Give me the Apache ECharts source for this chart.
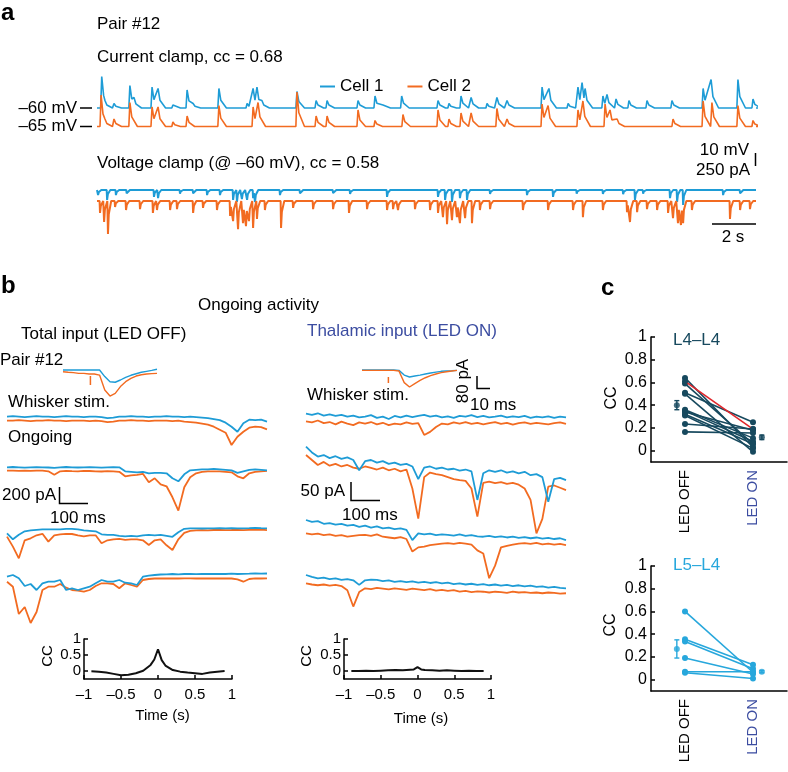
<!DOCTYPE html>
<html>
<head>
<meta charset="utf-8">
<title>Pair #12</title>
<script src="https://cdn.jsdelivr.net/npm/echarts@6/dist/echarts.min.js"></script>
<style>
html, body { margin: 0; padding: 0; background: #fff; }
#chart { width: 788px; height: 772px; }
</style>
</head>
<body>
<div id="chart"></div>
<script>
// ---------- data ----------

// panel a, current clamp: event times (s) and peak amplitudes (mV above rest)
var ccBlueTimes = [0.22,0.37,0.79,1.53,1.72,2.56,2.84,3.53,4.19,4.47,5.67,6.98,7.26,7.44,7.67,9.30,10.19,10.70,12.14,12.93,13.30,14.17,15.86,16.37,16.93,17.40,18.14,18.60,19.07,20.70,21.02,21.91,22.37,22.56,22.70,23.53,23.72,24.14,24.74,25.58,26.74,28.19,28.56,29.81,30.51];
var ccBlueAmps  = [21,5,3,15,7,14,13,2,12,3,13,3,13,14,5,11,5,5,5,8,2,8,5,3,8,7,3,7,5,14,13,3,14,17,13,8,9,6,5,5,5,13,19,19,6];
var ccOrangeTimes = [0.19,0.37,0.79,1.53,2.56,2.84,3.53,4.19,5.67,7.26,7.49,9.30,10.19,10.70,12.14,12.93,14.23,15.86,16.37,16.93,17.40,18.60,19.07,20.70,20.98,22.37,22.60,23.63,23.86,24.19,26.79,28.19,28.60,29.81,30.51];
var ccOrangeAmps  = [21,5,5,16,13,13,3,7,14,13,16,23,7,7,11,4,8,11,5,9,9,12,5,15,14,11,17,15,11,5,5,17,16,14,4];

// panel a, voltage clamp: event times (s) and current amplitudes (pA)
var vcBlueTimes = [0.05,0.47,0.88,1.38,2.65,2.84,3.86,4.47,5.12,5.72,6.33,6.51,6.74,6.98,7.26,7.35,8.51,9.44,10.98,11.77,13.49,15.86,16.19,16.51,16.88,17.21,18.28,20.00,21.21,22.31,23.53,24.47,25.02,25.40,26.65,26.98,27.26,29.12,29.91];
var vcBlueAmps  = [-85,-165,-85,-55,-115,-135,-60,-55,-85,-85,-165,-200,-150,-165,-135,-200,-85,-55,-50,-65,-115,-115,-165,-200,-135,-165,-65,-85,-115,-60,-65,-70,-165,-60,-135,-200,-250,-85,-55];
var vcOrangeTimes = [0.14,0.33,0.51,0.84,1.35,2.00,2.60,2.79,3.40,3.72,4.47,4.93,5.58,6.19,6.33,6.56,6.79,6.93,7.07,7.26,7.44,7.81,8.56,9.12,10.05,10.98,11.72,12.56,13.49,13.77,14.00,14.79,15.49,15.86,16.09,16.28,16.51,16.74,16.88,17.12,17.44,17.81,18.28,19.81,20.98,22.14,22.60,23.53,24.65,24.79,25.12,25.58,26.05,26.56,26.79,27.02,27.16,27.26,27.67,29.44,29.91,30.37];
var vcOrangeAmps  = [-200,-350,-550,-100,-150,-135,-200,-150,-150,-135,-200,-115,-150,-250,-335,-470,-370,-420,-335,-450,-300,-150,-450,-115,-135,-135,-200,-135,-150,-135,-150,-135,-150,-200,-270,-385,-320,-270,-370,-285,-370,-150,-135,-150,-150,-150,-270,-150,-185,-350,-185,-135,-150,-200,-285,-370,-400,-370,-150,-300,-150,-135];
var recordDuration = 30.65; // s

// panel b, whisker-evoked insets, sampled every 4 ms (pA)
var insetOffBlue   = [0,0,0,0,0,0,0,0,-35,-62,-65,-53,-39,-28,-20,-12,-7,-2,4];
var insetOffOrange = [-9,-12,-14,-18,-18,-21,-21,-27,-106,-138,-124,-88,-62,-44,-32,-25,-21,-19,-18];
var insetOnBlue    = [0,0,0,0,0,0,0,-2,-27,-37,-32,-27,-21,-16,-11,-7,-5,-4,-2];
var insetOnOrange  = [-2,-2,-2,-2,-2,-2,-2,-5,-67,-90,-72,-55,-41,-30,-21,-14,-9,-5,-2];
var stimTimes = [21, 20]; // ms, LED OFF / LED ON inset

// panel b, ongoing activity sweeps, sampled every 20 ms (pA)
var offBlue = [
  [0,5,0,-5,0,5,0,0,-5,0,5,0,0,-5,0,0,-5,-15,-10,0,0,5,0,0,-5,0,0,5,0,0,-5,0,-5,-10,-15,-25,-35,-60,-100,-150,-65,-30,-35,-30,-50],
  [0,3,0,-3,0,2,0,-2,-5,0,3,0,-2,0,2,0,-3,0,2,0,-40,-45,-50,-45,-60,-55,-55,-60,-110,-140,-70,-30,-25,-20,-20,-15,-20,-25,-30,-55,-40,-25,-20,-25,-30],
  [-40,-100,-55,-20,-10,-5,0,0,0,0,5,5,0,-10,-15,-20,-50,-55,-55,-65,-70,-65,-70,-60,-55,-60,-55,-65,-75,-30,5,10,10,8,10,10,12,10,12,10,10,12,15,12,10],
  [-27,-10,-43,-120,-100,-160,-93,-77,-77,-60,-160,-143,-160,-143,-127,-93,-60,-77,-77,-60,-87,-93,-110,-27,-17,-10,-5,-3,0,-3,0,0,-2,0,0,2,0,0,3,0,2,3,5,3,5]
];
var offOrange = [
  [-40,-40,-35,-40,-45,-40,-40,-35,-40,-40,-45,-40,-40,-40,-45,-40,-45,-55,-50,-40,-40,-35,-40,-40,-45,-40,-40,-40,-45,-40,-50,-55,-60,-70,-80,-100,-130,-160,-283,-200,-150,-110,-100,-105,-127],
  [-33,-33,-35,-33,-35,-33,-33,-40,-75,-40,-35,-38,-40,-35,-37,-40,-42,-38,-40,-45,-90,-80,-75,-65,-150,-110,-170,-190,-300,-433,-200,-100,-60,-45,-40,-40,-40,-45,-50,-90,-110,-60,-45,-40,-35],
  [-73,-173,-290,-110,-90,-60,-45,-123,-60,-50,-45,-47,-60,-70,-60,-60,-140,-110,-100,-95,-105,-100,-100,-110,-157,-110,-100,-160,-207,-100,-35,-15,-10,-8,-10,-7,-5,-8,-7,-5,-8,-5,-5,-3,-8],
  [-77,-127,-400,-330,-490,-380,-160,-127,-127,-100,-137,-160,-167,-177,-160,-120,-93,-93,-100,-143,-93,-110,-127,-60,-50,-45,-43,-45,-43,-45,-43,-43,-45,-43,-45,-43,-45,-43,-45,-53,-77,-50,-43,-45,-43]
];
var onBlue = [
  [8,5,9,3,6,2,5,0,3,-2,0,4,-3,0,-6,2,-2,3,-1,2,5,0,3,-2,1,-3,2,0,4,-1,2,-2,0,3,-2,1,-1,2,-3,0,-2,1,-3,0,-2],
  [0,-15,-26,-22,-30,-25,-32,-28,-35,-62,-38,-35,-42,-38,-45,-42,-48,-45,-52,-85,-55,-52,-58,-55,-60,-58,-63,-60,-65,-140,-70,-62,-66,-62,-68,-65,-70,-66,-75,-72,-80,-145,-85,-82,-88],
  [0,-5,-3,-10,-8,-12,-10,-15,-13,-18,-15,-20,-17,-22,-20,-24,-22,-26,-53,-35,-38,-36,-40,-38,-39,-41,-38,-42,-40,-43,-44,-42,-45,-43,-46,-44,-47,-45,-48,-46,-49,-47,-50,-48,-53],
  [0,-5,-9,-7,-11,-9,-13,-11,-14,-26,-14,-12,-13,-16,-14,-18,-16,-19,-17,-20,-18,-21,-19,-22,-20,-24,-22,-25,-23,-26,-24,-27,-25,-28,-26,-29,-27,-30,-28,-31,-30,-33,-31,-34,-35]
];
var onOrange = [
  [-12,-15,-10,-17,-14,-20,-13,-18,-22,-15,-18,-14,-20,-16,-22,-18,-20,-15,-19,-17,-48,-40,-27,-18,-20,-15,-18,-14,-19,-16,-20,-17,-14,-19,-16,-21,-17,-15,-19,-16,-18,-20,-17,-15,-19],
  [-22,-35,-48,-40,-50,-45,-52,-48,-55,-58,-52,-56,-60,-55,-62,-58,-65,-60,-110,-189,-80,-68,-72,-75,-80,-85,-88,-90,-110,-184,-95,-92,-96,-93,-98,-95,-100,-110,-140,-228,-190,-105,-102,-108,-114],
  [-35,-38,-36,-40,-38,-42,-40,-44,-42,-40,-39,-42,-38,-44,-46,-48,-45,-50,-83,-72,-70,-66,-64,-62,-61,-63,-60,-62,-65,-80,-88,-153,-120,-72,-68,-65,-62,-61,-63,-60,-64,-62,-65,-63,-66],
  [-22,-25,-27,-25,-28,-26,-29,-40,-83,-45,-35,-37,-34,-36,-38,-35,-37,-39,-36,-38,-40,-37,-41,-39,-42,-40,-44,-42,-45,-43,-44,-46,-44,-45,-47,-44,-46,-45,-47,-46,-48,-46,-47,-49,-48]
];

// panel b, cross-correlograms
var ccLags  = [-0.9,-0.8,-0.7,-0.6,-0.5,-0.4,-0.3,-0.2,-0.1,-0.05,0,0.05,0.1,0.2,0.3,0.4,0.5,0.6,0.7,0.8,0.9];
var ccLedOff = [-0.01,-0.02,-0.05,-0.09,-0.13,-0.12,-0.07,0.01,0.19,0.36,0.68,0.34,0.17,0.03,-0.02,-0.05,-0.07,-0.09,-0.05,-0.02,0.0];
var ccLedOn  = [0,0,0.01,0,0.01,0.02,0.03,0.02,0.04,0.05,0.12,0.05,0.03,0.02,0.01,0.02,0.01,0,0.01,0,0];
var ccSmallTicks = [0, 0.5, 1];

// panel c, paired CC values
var conditions = ['LED OFF', 'LED ON'];
var l4Off = [0.64,0.61,0.59,0.51,0.50,0.36,0.35,0.34,0.32,0.31,0.235,0.165];
var l4On  = [0.03,0.19,0.06,0.25,-0.01,0.11,0.08,0.18,0.06,0.02,0.19,0.155];
var l4Mean = [0.40, 0.117], l4Sem = [0.04, 0.02];
var l4Example = 1; // pair #12, drawn red
var l5Off = [0.60,0.355,0.336,0.19,0.07,0.06];
var l5On  = [0.065,0.13,0.095,0.05,0.07,0.01];
var l5Mean = [0.27, 0.07], l5Sem = [0.08, 0.01];
var pairTicks = [0, 0.2, 0.4, 0.6, 0.8, 1];

// ---------- styles ----------
var BLUE = '#1e9cd6', ORANGE = '#f26b21', RED = '#e0262b';
var L4 = '#17495e', L5 = '#27a7dc', ON_BLUE = '#3c4da1';
var FONT = '"Liberation Sans", Arial, Helvetica, sans-serif';

var grids = [], xAxes = [], yAxes = [], series = [];

function sampled(values, step) {
  return values.map(function (v, i) { return [i * step, v]; });
}

// turns a list of events into a polyline: quick rise, decaying tail
function eventTrace(times, amps, rise, decay, tEnd) {
  var pts = [[0, 0]];
  for (var i = 0; i < times.length; i++) {
    var t = times[i], a = amps[i], popped = false;
    while (pts.length > 1 && pts[pts.length - 1][0] > t - rise) { pts.pop(); popped = true; }
    if (!popped) pts.push([Math.max(0, t - rise), 0]);
    pts.push([t, a], [t + decay * 0.25, a * 0.4], [t + decay, 0]);
  }
  pts.push([tEnd, 0]);
  return pts;
}

function addTraceGrid(left, top, width, height, xMax, baseY, perPx) {
  var idx = grids.length;
  grids.push({ left: left, top: top, width: width, height: height, outerBoundsMode: 'none' });
  xAxes.push({ type: 'value', gridIndex: idx, min: 0, max: xMax, show: false });
  yAxes.push({ type: 'value', gridIndex: idx, min: -(top + height - baseY) * perPx, max: (baseY - top) * perPx, show: false });
  return idx;
}

function addTrace(gi, data, color, width, name) {
  series.push({
    type: 'line', name: name, xAxisIndex: gi, yAxisIndex: gi, data: data, color: color,
    showSymbol: false, symbol: 'none', lineStyle: { color: color, width: width },
    silent: true, clip: false, animation: false
  });
}

var axisText = { color: '#000', fontSize: 15, fontFamily: FONT };
var blackLine = { color: '#000', width: 1.5 };

function lagFmt(v) { return v < 0 ? '\u2013' + Math.abs(v) : String(v); }

function addCcGrid(left, width) {
  var idx = grids.length;
  grids.push({ left: left, top: 639, width: width, height: 40, outerBoundsMode: 'none' });
  xAxes.push({
    type: 'value', gridIndex: idx, min: -1, max: 1, interval: 0.5,
    axisLine: { show: true, onZero: false, lineStyle: blackLine },
    axisTick: { show: true, inside: true, length: 4, lineStyle: blackLine },
    axisLabel: Object.assign({ margin: 8, formatter: lagFmt, showMinLabel: true, showMaxLabel: true }, axisText),
    splitLine: { show: false }
  });
  yAxes.push({
    type: 'value', gridIndex: idx, min: -0.25, max: 1,
    axisLine: { show: true, onZero: false, lineStyle: blackLine },
    axisTick: { show: true, inside: true, length: 4, customValues: ccSmallTicks, lineStyle: blackLine },
    axisLabel: Object.assign({ margin: 3, customValues: ccSmallTicks }, axisText),
    splitLine: { show: false }
  });
  return idx;
}

function addPairGrid(top) {
  var idx = grids.length;
  grids.push({ left: 651, top: top, width: 136, height: 125, outerBoundsMode: 'none' });
  xAxes.push({
    type: 'value', gridIndex: idx, min: 0.5, max: 2.5,
    axisLine: { show: true, onZero: false, lineStyle: blackLine },
    axisTick: { show: false }, splitLine: { show: false },
    axisLabel: {
      customValues: [1, 2], rotate: 90, margin: 8, fontSize: 15, fontFamily: FONT,
      formatter: function (v) { return conditions[Math.round(v) - 1]; },
      color: function (v) { return Number(v) > 1.5 ? ON_BLUE : '#000'; }
    }
  });
  yAxes.push({
    type: 'value', gridIndex: idx, min: -0.1, max: 1,
    axisLine: { show: true, onZero: false, lineStyle: blackLine },
    axisTick: { show: true, inside: true, length: 4, customValues: pairTicks, lineStyle: blackLine },
    axisLabel: {
      customValues: pairTicks, margin: 4, fontSize: 16, fontFamily: FONT, color: '#000',
      formatter: function (v) { return (v === 0 || v === 1) ? String(v) : v.toFixed(1); }
    },
    splitLine: { show: false }
  });
  return idx;
}

function errorBar(params, api) {
  var x = api.value(0), m = api.value(1), s = api.value(2);
  var hi = api.coord([x, m + s]), lo = api.coord([x, m - s]);
  var st = { stroke: api.visual('color'), lineWidth: 1.4 };
  return { type: 'group', children: [
    { type: 'line', shape: { x1: hi[0], y1: hi[1], x2: lo[0], y2: lo[1] }, style: st },
    { type: 'line', shape: { x1: hi[0] - 2.5, y1: hi[1], x2: hi[0] + 2.5, y2: hi[1] }, style: st },
    { type: 'line', shape: { x1: lo[0] - 2.5, y1: lo[1], x2: lo[0] + 2.5, y2: lo[1] }, style: st }
  ] };
}

function addPairs(gi, off, on, mean, sem, color, highlight) {
  off.forEach(function (v, i) {
    series.push({
      type: 'line', xAxisIndex: gi, yAxisIndex: gi, data: [[1, v], [2, on[i]]],
      symbol: 'circle', symbolSize: 6, showSymbol: true,
      lineStyle: { color: i === highlight ? RED : color, width: 1.6 },
      itemStyle: { color: color }, z: i === highlight ? 4 : 3, silent: true, animation: false
    });
  });
  series.push({
    type: 'scatter', xAxisIndex: gi, yAxisIndex: gi, symbolSize: 6,
    data: [[0.88, mean[0]], [2.13, mean[1]]], itemStyle: { color: color }, silent: true, animation: false
  });
  series.push({
    type: 'custom', xAxisIndex: gi, yAxisIndex: gi, renderItem: errorBar,
    data: [[0.88, mean[0], sem[0]], [2.13, mean[1], sem[1]]],
    encode: { x: 0, y: 1 }, itemStyle: { color: color }, silent: true, animation: false
  });
}

// ---------- panel a ----------
var gCcB = addTraceGrid(97, 68, 659, 45, recordDuration, 108, 10 / 15);
var gCcO = addTraceGrid(97, 86, 659, 45, recordDuration, 126.5, 10 / 15);
var gVcB = addTraceGrid(97, 185, 659, 40, recordDuration, 190, 250 / 15);
var gVcO = addTraceGrid(97, 196, 659, 45, recordDuration, 201, 250 / 15);
addTrace(gCcB, eventTrace(ccBlueTimes, ccBlueAmps, 0.05, 0.35, recordDuration), BLUE, 1.6, 'Cell 1');
addTrace(gCcO, eventTrace(ccOrangeTimes, ccOrangeAmps, 0.05, 0.35, recordDuration), ORANGE, 1.6, 'Cell 2');
addTrace(gVcB, eventTrace(vcBlueTimes, vcBlueAmps, 0.02, 0.15, recordDuration), BLUE, 2, 'Cell 1');
addTrace(gVcO, eventTrace(vcOrangeTimes, vcOrangeAmps, 0.02, 0.15, recordDuration), ORANGE, 2, 'Cell 2');

// ---------- panel b ----------
var gInOff = addTraceGrid(63, 360, 94, 45, 72, 370, 5.3);
var gInOn = addTraceGrid(362, 360, 95, 45, 72, 370, 5.3);
addTrace(gInOff, sampled(insetOffBlue, 4), BLUE, 1.4);
addTrace(gInOff, sampled(insetOffOrange, 4), ORANGE, 1.4);
addTrace(gInOff, [[stimTimes[0], -32], [stimTimes[0], -80]], ORANGE, 1.5);
addTrace(gInOn, sampled(insetOnBlue, 4), BLUE, 1.4);
addTrace(gInOn, sampled(insetOnOrange, 4), ORANGE, 1.4);
addTrace(gInOn, [[stimTimes[1], -37], [stimTimes[1], -69]], ORANGE, 1.5);

var offLayout = [[400, 50, 416.7], [450, 75, 467.3], [515, 60, 529.3], [560, 70, 574]];
var onLayout = [[400, 50, 416.7], [435, 110, 446.7], [505, 90, 520], [565, 50, 575]];
offLayout.forEach(function (l, k) {
  var g = addTraceGrid(7, l[0], 260, l[1], 880, l[2], 10);
  addTrace(g, sampled(offOrange[k], 20), ORANGE, 1.8);
  addTrace(g, sampled(offBlue[k], 20), BLUE, 1.8);
});
onLayout.forEach(function (l, k) {
  var g = addTraceGrid(306, l[0], 260, l[1], 880, l[2], 2.63);
  addTrace(g, sampled(onOrange[k], 20), ORANGE, 1.8);
  addTrace(g, sampled(onBlue[k], 20), BLUE, 1.8);
});

var gCcL = addCcGrid(84, 148);
var gCcR = addCcGrid(344, 147);
addTrace(gCcL, ccLags.map(function (t, i) { return [t, ccLedOff[i]]; }), '#111', 2);
addTrace(gCcR, ccLags.map(function (t, i) { return [t, ccLedOn[i]]; }), '#111', 2);

// ---------- panel c ----------
var gL4 = addPairGrid(337);
var gL5 = addPairGrid(566);
addPairs(gL4, l4Off, l4On, l4Mean, l4Sem, L4, l4Example);
addPairs(gL5, l5Off, l5On, l5Mean, l5Sem, L5, -1);

// ---------- text and scale bars ----------
function txt(s, x, y, o) {
  o = o || {};
  return {
    type: 'text', x: x, y: y, rotation: o.rot || 0, silent: true,
    style: {
      text: s, fill: o.color || '#000',
      font: (o.bold ? 'bold ' : '') + (o.size || 17) + 'px ' + FONT,
      textAlign: o.align || 'left', textVerticalAlign: 'middle'
    }
  };
}
function bar(points) {
  return { type: 'polyline', silent: true, shape: { points: points }, style: { stroke: '#000', lineWidth: 1.5, fill: null } };
}
var UP = Math.PI / 2;

var graphics = [
  txt('a', 1, 13, { bold: true, size: 24 }),
  txt('Pair #12', 97, 24),
  txt('Current clamp, cc = 0.68', 97, 57),
  txt('\u201360 mV', 77, 108, { align: 'right' }),
  txt('\u201365 mV', 77, 126.5, { align: 'right' }),
  bar([[80, 108], [92, 108]]),
  bar([[80, 126.5], [92, 126.5]]),
  txt('Voltage clamp (@ \u201360 mV), cc = 0.58', 97, 163),
  txt('10 mV', 749, 150, { align: 'right' }),
  txt('250 pA', 750, 170, { align: 'right' }),
  bar([[755.5, 153], [755.5, 166]]),
  bar([[712, 224], [756, 224]]),
  txt('2 s', 733, 237, { align: 'center' }),

  txt('b', 1, 286, { bold: true, size: 24 }),
  txt('Ongoing activity', 198, 305),
  txt('Total input (LED OFF)', 21, 334),
  txt('Thalamic input (LED ON)', 307, 331, { color: ON_BLUE }),
  txt('Pair #12', 0, 360),
  txt('Whisker stim.', 8, 402),
  txt('Ongoing', 8, 437),
  txt('200 pA', 56, 495, { align: 'right' }),
  bar([[59.5, 487], [59.5, 503.5], [88, 503.5]]),
  txt('100 ms', 50, 518),
  txt('Whisker stim.', 307, 395),
  txt('80 pA', 463, 381, { align: 'center', rot: UP }),
  bar([[477, 376], [477, 388.5], [490, 388.5]]),
  txt('10 ms', 470, 405),
  txt('50 pA', 345, 491, { align: 'right' }),
  bar([[351, 482], [351, 500.5], [380, 500.5]]),
  txt('100 ms', 342, 515),
  txt('CC', 47.5, 656, { align: 'center', rot: UP, size: 15 }),
  txt('CC', 307, 656, { align: 'center', rot: UP, size: 15 }),
  txt('Time (s)', 162.5, 716, { align: 'center', size: 15 }),
  txt('Time (s)', 421, 719, { align: 'center', size: 15 }),

  txt('c', 601, 288, { bold: true, size: 24 }),
  txt('L4\u2013L4', 673, 340, { color: L4 }),
  txt('L5\u2013L4', 673, 565, { color: L5 }),
  txt('CC', 612, 398, { align: 'center', rot: UP, size: 16 }),
  txt('CC', 611, 625, { align: 'center', rot: UP, size: 16 })
];

var chart = echarts.init(document.getElementById('chart'), null, { renderer: 'canvas' });
chart.setOption({
  backgroundColor: '#fff',
  animation: false,
  legend: {
    data: ['Cell 1', 'Cell 2'], left: 315, top: 73, icon: 'rect', itemWidth: 15, itemHeight: 2,
    itemGap: 24, selectedMode: false, textStyle: { color: '#000', fontSize: 17, fontFamily: FONT }
  },
  grid: grids,
  xAxis: xAxes,
  yAxis: yAxes,
  series: series,
  graphic: { elements: graphics }
});
</script>
</body>
</html>
